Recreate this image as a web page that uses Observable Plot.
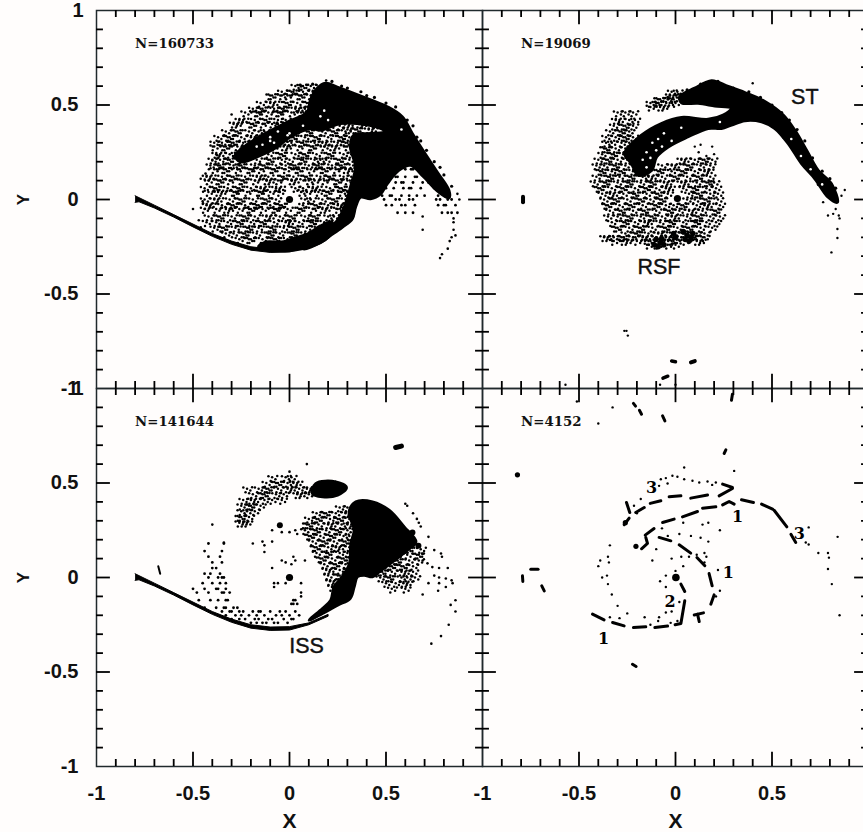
<!DOCTYPE html>
<html><head><meta charset="utf-8">
<script src="https://cdn.jsdelivr.net/npm/d3@7"></script>
<script src="https://cdn.jsdelivr.net/npm/@observablehq/plot@0.6"></script>
<style>html,body{margin:0;padding:0;background:#fffdfc;overflow:hidden}#c{width:863px;height:832px;overflow:hidden}</style>
</head><body><div id="c"></div>
<script>
// Values. Row lists are [y, [x, x, ...]] in hundredths of an axis unit.
const minorTicks=[-.9,-.8,-.7,-.6,-.4,-.3,-.2,-.1,.1,.2,.3,.4,.6,.7,.8,.9];
const majorTicks=[-.5,0,.5];
const xTickLabels=[-1,-.5,0,.5];
const yTickLabels=[-1,-.5,0,.5];
const yTopLabel=[1];

const tail=[[-.8,.02],[-.7,-.03],[-.6,-.08],[-.5,-.13],[-.4,-.18],[-.3,-.22],[-.2,-.25],[-.1,-.262],[0,-.26],[.1,-.24],[.2,-.195],[.2,-.205],[.1,-.25],[0,-.278],[-.1,-.28],[-.2,-.268],[-.3,-.237],[-.4,-.195],[-.5,-.145],[-.6,-.093],[-.7,-.045],[-.78,-.012],[-.8,-.015]];

const blobA=[[-.28,.234],[-.185,.314],[-.098,.363],[.005,.417],[.09,.46],[.11,.53],[.14,.585],[.187,.615],[.247,.594],[.333,.562],[.42,.527],[.506,.491],[.584,.438],[.636,.349],[.696,.252],[.765,.145],[.826,.048],[.826,.009],[.774,.039],[.696,.119],[.627,.181],[.566,.154],[.506,.083],[.472,.03],[.42,.004],[.368,.012],[.342,-.041],[.325,-.103],[.273,-.147],[.212,-.191],[.161,-.227],[.074,-.262],[.16,-.183],[.247,-.112],[.29,-.023],[.316,.066],[.342,.172],[.316,.278],[.333,.34],[.42,.349],[.497,.358],[.472,.376],[.351,.402],[.264,.402],[.161,.367],[.109,.376],[.005,.332],[-.064,.278],[-.15,.234],[-.254,.199]];
const bandA=[[-.16,-.25],[-.12,-.225],[-.04,-.225],[.04,-.2],[.1,-.18],[.16,-.14],[.22,-.12],[.2,-.2],[.07,-.26],[-.05,-.27]];
const specksWhiteA=[[-.1,.33],[-.1,.31],[-.08,.3],[0,.35],[-.01,.34],[.16,.44],[.07,.39],[.18,.47],[.2,.42],[-.17,.28],[-.14,.29],[-.06,.36],[.58,.37]];
const fringeA=[[.06,.6],[.12,.61],[.22,.625],[.3,.59],[.37,.57],[.44,.54],[.5,.51],[.55,.49],[.61,.42],[.66,.33],[.71,.26],[.75,.2],[.8,.13],[.84,.07],[.64,.39],[.68,.31],[.78,.17],[.4,.55],[.27,.6]];
const rowsA=[[60,[3,6,7,11,16]],[57,[-4,1,2,7,12,14]],[55,[-10,-9,-4,-1,5,6,11,15]],[51,[-15,-10,-8,-2,-1,4,9,10]],[48,[-19,-15,-14,-8,-4,-3,3,5,8]],[46,[-23,-17,-16,-11,-6,-5,1,6]],[42,[-26,-24,-18,-13,-12,-6,-2]],[40,[-29,-27,-20,-19,-14,-9,-6,29,31,36,38,44,48]],[39,[13,17,21,26]],[37,[30,34,35,41,43]],[36,[-33,-28,-27,-21,-16,-13,3,9,10,17,22,23,29]],[33,[-37,-32,-31,-25,-20,-18,1,2,8,13,14,20,26,27,31]],[30,[-39,-35,-30,-29,-24,-21,-4,1,6,7,13,17,19,25,29,30]],[28,[-39,-34,-33,-27,-8,-3,-1,5,11,12,18,22,24,30]],[24,[-38,-36,-31,-28,-11,-5,-4,3,7,8,14,20,21,28,32]],[21,[-40,-36,-32,-31,-25,-17,-11,-10,-4,0,6,7,13,16,19,25,26,31]],[18,[-41,-37,-36,-29,-26,-25,-18,-14,-13,-7,-2,2,3,10,14,15,22,26,27,33]],[16,[-39,-34,-33,-27,-21,-20,-15,-9,-8,-2,4,5,11,17,18,24,29,31]],[12,[-43,-41,-35,-30,-29,-23,-17,-15,-11,-4,-3,2,8,9,16,20,21,28,32]],[10,[-42,-37,-36,-31,-25,-24,-18,-12,-10,-6,1,3,10,13,18,24,25,30]],[6,[-44,-39,-38,-32,-27,-26,-20,-15,-13,-7,-5,3,7,12,14,21,26,27]],[4,[-42,-37,-35,-29,-28,-22,-16,-15,-10,-5,6,9,15,19,20,27,30]],[0,[-44,-39,-37,-31,-26,-25,-19,-13,-12,-7,8,11,17,22,23,29]],[-3,[-43,-41,-35,-30,-29,-23,-17,-16,-10,-5,-4,7,13,14,20,25,27]],[-5,[-44,-38,-33,-31,-26,-21,-20,-14,-8,-7,-1,5,6,12,17,19,25]],[-9,[-42,-37,-36,-30,-24,-23,-18,-12,-10,-5,0,1,8,12,13,20,23]],[-12,[-43,-38,-32,-27,-26,-20,-15,-14,-8,-2,0,5,11,12,18]],[-15,[-39,-35,-34,-28,-22,-21,-16,-10,-9,-3,2,3,9,15]],[-18,[-33,-29,-24,-23,-17,-11,-10,-5,1,2,8,12]],[-21,[-26,-21,-20,-14,-8,-7,-1,3,6]],[-24,[-13,-8,-7,-2,1]]];
const rowsA2=[[16,[60,63,64,67]],[12,[55,56,60,65,66,70]],[9,[51,55,58,59,64,69,72]],[6,[49,50,54,59,62,63,68,75]],[2,[48,52,53,58,62,66,70,77]],[0,[49,55,57,62,64,76,78,82,84]],[-3,[50,53,58,60,65,77,80,81,86]],[-7,[56,60,64,79,82,84,87]]];
const sparseA=[[-.3,.45],[-.46,.11],[-.435,.137],[-.45,-.01],[-.5,-.05],[-.47,-.11],[-.46,-.147],[-.375,.234],[-.4,.207],[.69,-.09],[.69,-.16],[.85,-.16],[.86,-.19],[.84,-.2],[.83,-.22],[.85,-.12],[.79,-.29],[.82,-.26],[.78,-.31],[.87,.03],[.88,0],[.85,-.1],[.19,.63]];

const blobB=[[-.263,.243],[-.176,.34],[-.073,.402],[.031,.434],[.169,.424],[.247,.447],[.29,.482],[.204,.495],[.117,.509],[.031,.512],[.022,.544],[.1,.589],[.187,.628],[.273,.598],[.359,.566],[.463,.518],[.558,.447],[.618,.367],[.679,.261],[.739,.154],[.808,.083],[.839,-.014],[.791,.012],[.722,.11],[.653,.19],[.584,.296],[.515,.376],[.446,.411],[.359,.417],[.29,.394],[.238,.376],[.169,.376],[.066,.332],[-.038,.278],[-.098,.225],[-.124,.154],[-.193,.128],[-.228,.19]];
const clumpDotsB=[[-.1,-.21],[-.08,-.23],[-.09,-.25],[-.07,-.21],[-.11,-.24],[-.06,-.24],[.06,-.19],[.08,-.2],[.07,-.22],[.05,-.21],[.09,-.18],[-.01,-.18],[0,-.2],[.04,-.17]];
const specksWhiteB=[[-.12,.3],[-.09,.32],[-.07,.28],[-.15,.25],[-.13,.22],[-.06,.35],[.03,.38],[.23,.41],[.6,.32],[.65,.23],[-.17,.21],[-.15,.17],[-.02,.31],[-.1,.26],[.7,.16],[.76,.08]];
const fringeB=[[.06,.58],[.13,.61],[.22,.625],[.3,.59],[.38,.57],[.44,.54],[.5,.5],[.55,.46],[.59,.42],[.63,.37],[.67,.31],[.71,.22],[.76,.15],[.8,.11],[.83,.06],[.62,.27],[.56,.33],[-.04,.54],[.27,.45],[.33,.44],[.78,.03],[.74,.08]];
const rowsB=[[57,[-2,1]],[55,[-3,-1,3,5]],[53,[-9,-8,-4,-1]],[51,[-13,-10,-9,-3,0]],[49,[-13,-8,-6]],[46,[-30,-26,-22]],[42,[-31,-29,-24,-21]],[39,[-32,-27,-26,-22]],[36,[-34,-29,-28,-24]],[33,[-36,-31,-27,-26,-22]],[30,[-36,-33,-28,-24]],[27,[-37,-36,-31,-26]],[24,[-38,-33,-32,-27,-25]],[21,[-40,-36,-35,-30,-25,-23,3,5,10,14,15,19]],[18,[-41,-37,-32,-31,-26,-7,-2,0,6,7,13,18]],[15,[-39,-38,-33,-29,-28,-22,-20,-9,-8,-2,3,4,10,15,17]],[12,[-41,-35,-34,-29,-24,-23,-17,-14,-12,-7,-1,0,6,11,12,18]],[9,[-42,-37,-36,-30,-25,-24,-18,-13,-12,-6,-4,3,5,11,16,17,20]],[6,[-40,-39,-33,-28,-27,-21,-16,-15,-10,-5,-3,4,9,10,16,21]],[3,[-38,-34,-32,-27,-22,-21,-15,-10,-9,-4,7,11,12,18,22]],[0,[-37,-32,-31,-25,-19,-18,-13,-8,-7,6,10,15,16,22]],[-3,[-36,-35,-29,-24,-23,-17,-11,-10,-5,-1,3,4,11,15,17,23]],[-6,[-34,-29,-28,-22,-17,-16,-10,-4,-3,2,7,9,14,20,21]],[-9,[-35,-30,-25,-24,-18,-13,-12,-7,-2,0,6,11,12,18,23]],[-12,[-33,-27,-26,-21,-16,-14,-8,-3,-2,4,10,11,16,21]],[-15,[-31,-30,-24,-19,-18,-12,-6,-5,1,6,7,13,19]],[-18,[-26,-21,-20,-14,-9,-7,-1,4,5,11,15]],[-20,[-37,-35,-32,-28,-27,-22,-17,-15,-10,-5,-3,3,8,9,15]],[-22,[-32,-27,-25,-20,-14,-13,-8,-2,-1,5,11,13]],[-24,[-14,-10,-9,-4,0]]];
const sparseB=[[.4,.615],[.808,-.28],[.839,-.204],[.839,-.156],[.846,-.085],[.817,-.076],[.79,-.085],[.765,-.014],[.86,.02],[.877,.05],[.83,-.05],[.85,-.1],[.19,.28],[.2,.24],[.13,.29],[.12,.25],[.1,.28],[.16,.23],[-.254,-.695],[-.247,-.72],[-.265,-.695],[-.57,-.98],[-.08,-.98],[0,-.98]];
const pieceB1=[[-.79,.014],[-.79,-.014]];
const pieceB2=[[-.02,-.855],[0,-.858]];
const pieceB3=[[.08,-.862],[.1,-.855]];
const pieceB4=[[-.065,-.945],[-.04,-.935]];

const blobC=[[.309,.347],[.344,.4],[.43,.4],[.516,.356],[.594,.268],[.655,.189],[.611,.145],[.534,.083],[.465,.03],[.43,.004],[.387,.012],[.352,.004],[.335,-.049],[.314,-.111],[.249,-.146],[.171,-.19],[.102,-.226],[.171,-.164],[.214,-.12],[.231,-.05],[.27,0],[.31,.07],[.318,.18],[.335,.25]];
const clumpC=[[.136,.497],[.24,.506],[.295,.476],[.249,.436],[.171,.427],[.119,.444]];
const rowsC=[[53,[-9,-2,1]],[50,[-12,-7,-6,-1,2,4]],[47,[-22,-16,-12,-11,-6,-1,1,5,9,11]],[44,[-19,-14,-13,-7,-3,4,6,10]],[41,[-24,-20,-18,-13,-9,-4]],[38,[-25,-21,-20,-15]],[35,[-25,-22,-18]],[32,[-26,-25,-21]],[29,[-26,-24,-22]],
[37,[26,30]],[34,[14,18,19,24,29,31]],[31,[10,14,15,21,25,26,31]],[28,[9,10,15,20,22,27,30,32]],[25,[8,13,14,19,24,25,30]],[22,[10,11,16,21,22,28,31]],[19,[12,17,18,23,28,29]],[16,[13,14,20,24,26,31]],[13,[14,19,20,26,30,33]],[10,[16,17,22,27,28,33]],[7,[18,23,24,29,32]],[4,[19,21,26,30]],[1,[20,25,26,31]],[-2,[21,23,29]],[-5,[22,27]],
[15,[57,61,62,68]],[12,[54,56,61,66,67]],[9,[51,55,56,62,67]],[6,[48,52,53,58,59,64]],[3,[47,48,53,58,60,64]],[0,[47,51,52,58,61,65]],[-3,[50,55,59,61]],[-6,[53,60]]];
const rowsC2=[[18,[-42,-34]],[14,[-44,-35]],[11,[-42,-36]],[8,[-40,-35]],[5,[-40,-38]],[2,[-44,-41,-36]],[0,[-42,-37,-35,-34]],[-3,[-45,-40,-36,-33]],[-6,[-50,-44,-38,-37,-33]],[-8,[-48,-42,-35,-34,-31]],[-12,[-47,-41,-37,-33,-32,2,3]],[-14,[1,2,4]],[-16,[-44,-38,-34,-33,-29,-27]],[-18,[-35,-31,-30,-26,-24,-19,-16,-15,-10,-5,-2,3]],[-20,[-33,-28,-25,-21,-17,-13,-7,-4,0,5]],[-22,[-30,-26,-23,-18,-16,-11,-9,-3,1,2]],[-24,[-20,-17,-14,-12,-8,-6,-1]]];
const sparseC=[[-.4,.28],[-.34,.185],[-.19,.18],[-.14,.19],[-.13,.17],[-.13,.135],[-.09,.19],[-.09,.25],[-.04,.24],[0,.24],[.03,.25],[.07,.26],[.04,.23],[-.04,.09],[-.02,.08],[.01,.07],[.02,.11],[.03,.09],[.08,.09],[-.09,.05],[-.08,-.03],[-.08,-.05],[-.06,-.03],[-.02,-.03],[.06,-.03],[.06,-.08],[.06,-.1],[0,.56],[.09,.6],[.6,.39],[.61,.38],[.64,.34],[.66,.31],[.67,.29],[.68,.27],[.59,.27],[.72,.215],[.75,.145],[.785,.127],[.79,.11],[.715,.075],[.74,.055],[.775,.05],[.82,.05],[.75,.01],[.775,0],[.81,-.005],[.84,-.015],[.845,-.03],[.72,-.03],[.775,-.03],[.81,-.05],[.77,-.07],[.69,-.09],[.86,-.12],[.835,-.145],[.86,-.18],[.825,-.25],[.785,-.31],[.735,-.35],[.69,.125],[.69,.09]];
const bigC=[[-.05,.277],[.668,.168],[.637,.238]];
const pieceC1=[[-.68,.06],[-.67,.02]];
const pieceC2=[[.55,.688],[.58,.695]];

const dashesD=[[[-.43,-.194],[-.37,-.224]],[[-.326,-.238],[-.266,-.256]],[[-.218,-.265],[-.154,-.261]],[[-.107,-.265],[-.041,-.257]],[[.048,-.123],[.028,-.243],[-.002,-.25]],[[.097,-.198],[.145,-.187]],[[.114,-.194],[.123,-.233]],[[.183,-.141],[.2,-.092]],[[.174,.021],[.19,-.044]],[[.111,.106],[.152,.062]],[[.019,.173],[.079,.129]],[[-.085,.212],[-.024,.194]],[[-.176,.152],[-.145,.18],[-.154,.212]],[[-.157,.224],[-.111,.259]],[[-.067,.291],[-.007,.309]],[[.036,.321],[.114,.349]],[[.14,.367],[.209,.374]],[[.244,.384],[.278,.402],[.304,.388]],[[.342,.411],[.404,.397]],[[.446,.388],[.503,.362]],[[.511,.356],[.577,.268]],[[.598,.229],[.623,.185]],[[-.24,.314],[-.266,.279]],[[-.206,.344],[-.162,.37]],[[-.131,.392],[-.076,.406]],[[-.033,.427],[.028,.432]],[[.079,.42],[.166,.436]],[[.226,.432],[.295,.471]],[[.244,.494],[.295,.476]],[[-.254,.397],[-.237,.344]],[[.028,-.035],[.048,-.074]],[[-.218,.921],[-.207,.907]],[[-.187,.885],[-.176,.864]],[[-.067,.855],[-.055,.829]],[[.261,.675],[.252,.656]],[[.295,.97],[.29,.938]],[[-.223,-.459],[-.204,-.471]],[[-.75,.044],[-.712,.044]],[[-.793,.009],[-.791,-.021]],[[-.693,-.044],[-.68,-.071]]];
const dotsD=[[.045,.582],[.304,.564],[-.326,.9],[-.4,.815],[-.511,.931],[-.076,.52],[-.05,.526],[-.016,.538],[.01,.533],[.045,.52],[.088,.512],[.123,.503],[.166,.508],[.209,.503],[-.085,.485],[-.041,.497],[.14,.28],[.17,.29],[.23,.25],[.04,.29],[-.07,.26],[.02,.23],[.08,.22],[.13,.21],[.17,.19],[-.04,.22],[-.1,.15],[-.12,.09],[-.02,.1],[.03,.11],[.07,.11],[.11,.12],[.15,.13],[.16,.11],[.15,.08],[.22,.04],[.23,-.07],[.21,-.1],[0,.035],[.04,.06],[-.08,-.02],[-.05,-.05],[-.05,.01],[.02,-.13],[-.02,-.18],[-.05,-.185],[-.085,-.21],[-.09,-.23],[-.16,-.21],[-.25,-.19],[-.3,-.15],[-.33,-.09],[-.29,-.215],[-.34,-.21],[-.35,-.035],[-.38,0],[-.355,.01],[-.4,.06],[-.345,.08],[-.35,.11],[-.39,.09],[-.34,.17],[.69,.265],[.675,.185],[.69,.175],[.74,.13],[.79,.13],[.795,.105],[.79,.045],[.81,-.035],[.84,.215],[.85,-.2],[-.13,-.25],[-.025,-.24],[.01,-.23],[-.215,.38],[-.2,.34],[-.18,.415],[.19,.49]];
const blobDotsD=[[-.205,.165],[-.819,.543],[-.26,.29]];
const countsText=[["A","N=160733"],["B","N=19069"],["C","N=141644"],["D","N=4152"]];
const featureLabels=[["B","ST",.67,.54],["B","RSF",-.086,-.36],["C","ISS",.088,-.363]];
const armNumbers=[["1",-.373,-.326],["1",.321,.321],["1",.273,.023],["2",-.028,-.127],["3",-.124,.476],["3",.641,.229]];

const cell={A:["L","T"],B:["R","T"],C:["L","B"],D:["R","B"]};
const at=p=>({fx:()=>cell[p][0],fy:()=>cell[p][1]});
const X=d=>d[0],Y=d=>d[1];
const expand=rows=>rows.flatMap(([y,xs])=>xs.map(x=>[x/100,y/100]));
const poly=(pts,p,curve="linear",sw=1)=>Plot.line(pts,{x:X,y:Y,fill:"#000",stroke:"#000",strokeWidth:sw,curve,...at(p)});
const smooth=(pts,p)=>poly(pts,p,"catmull-rom-closed",3);
const stroke=(pts,p,w)=>Plot.line(pts,{x:X,y:Y,stroke:"#000",strokeWidth:w,strokeLinecap:"round",...at(p)});
const dots=(pts,p,r=1.25,fill="#000",extra={})=>Plot.dot(pts,{x:X,y:Y,r,fill,...at(p),...extra});
// dense clouds: each listed position stands for a small clump of simulation particles
const offsets=[[0,0],[3.3,1.9],[-1.5,3.7],[5.1,-1.3],[-3.7,-1.1]];
const clump=(pts,p)=>offsets.map(([dx,dy])=>dots(pts,p,1.25,"#000",{dx,dy}));

const ink="#20292c";
// inward ticks on all four sides of every panel, drawn last and in solid black
const tickStyle={stroke:"#000",strokeWidth:1.8,strokeOpacity:1};
const sideTicks=(t,lenX,lenY)=>[-1,1].flatMap(e=>[
  Plot.ruleX(t,{x:d=>d,y1:()=>e,y2:()=>e-e*lenX,...tickStyle}),
  Plot.ruleY(t,{y:d=>d,x1:()=>e,x2:()=>e-e*lenY,...tickStyle})
]);
const axisFont={fontSize:20,fontWeight:"bold",fontFamily:"Liberation Sans"};

const chart=Plot.plot({
  width:868,height:832,marginLeft:96,marginRight:0,marginTop:10,marginBottom:66,
  style:{background:"#fffdfc",maxWidth:"none"},
  x:{domain:[-1,1],axis:null},y:{domain:[-1,1],axis:null},
  fx:{domain:["L","R"],padding:0,axis:null},fy:{domain:["T","B"],padding:0,axis:null},
  marks:[
    Plot.frame({stroke:ink,strokeWidth:1.5}),
    ...clump(expand(rowsA),"A"),dots(expand(rowsA2),"A",1.4),dots(sparseA,"A",1.3),
    smooth(blobA,"A"),smooth(bandA,"A"),poly(tail,"A"),dots(fringeA,"A",1.6),dots(specksWhiteA,"A",1.3,"#fff"),dots([[0,0]],"A",3.6),
    ...clump(expand(rowsB),"B"),dots(sparseB,"B",1.2),
    smooth(blobB,"B"),dots(clumpDotsB,"B",2.8),dots(fringeB,"B",1.6),dots(specksWhiteB,"B",1.3,"#fff"),dots([[.01,.005]],"B",3.6),
    stroke(pieceB1,"B",4),stroke(pieceB2,"B",3.5),stroke(pieceB3,"B",4),stroke(pieceB4,"B",3.5),
    ...clump(expand(rowsC),"C"),dots(expand(rowsC2),"C",1.4),dots(sparseC,"C",1.3),
    smooth(blobC,"C"),smooth(clumpC,"C"),poly(tail,"C"),dots([[0,0]],"C",3.6),dots(bigC,"C",3),
    stroke(pieceC1,"C",2),stroke(pieceC2,"C",5),
    ...dashesD.map(s=>stroke(s,"D",3)),dots(dotsD,"D",1.2),dots(blobDotsD,"D",2.6),dots([[.002,0]],"D",3.8),
    Plot.text(armNumbers,{x:d=>d[1],y:d=>d[2],text:d=>d[0],fontFamily:"DejaVu Serif",fontWeight:"bold",fontSize:16,fill:"#000",...at("D")}),
    ...countsText.map(([p,t])=>Plot.text([t],{x:()=>-.8,y:()=>.825,text:d=>d,textAnchor:"start",fontFamily:"DejaVu Serif",fontWeight:"bold",fontSize:13.3,fill:"#111",...at(p)})),
    ...featureLabels.map(([p,t,x,y])=>Plot.text([t],{x:()=>x,y:()=>y,text:d=>d,fontSize:21.5,fontFamily:"Liberation Sans",fill:"#111",stroke:"#111",strokeWidth:.4,...at(p)})),
    Plot.axisX({ticks:xTickLabels,tickSize:0,tickPadding:19,tickFormat:d=>String(d),facetAnchor:"bottom",anchor:"bottom",label:null,...axisFont,fill:"#111"}),
    Plot.axisY({ticks:yTickLabels,tickSize:0,tickPadding:18,tickFormat:d=>String(d),facetAnchor:"left",anchor:"left",label:null,...axisFont,fill:"#111"}),
    Plot.axisY({ticks:yTopLabel,tickSize:0,tickPadding:13,tickFormat:d=>String(d),facetAnchor:"left",anchor:"left",label:null,...axisFont,fill:"#111"}),
    ...["C","D"].map(p=>Plot.text(["X"],{x:()=>0,y:()=>-1,dy:55,text:d=>d,fontSize:21,fontWeight:"bold",fontFamily:"Liberation Sans",fill:"#111",...at(p)})),
    ...["A","C"].map(p=>Plot.text(["Y"],{x:()=>-1,y:()=>0,dx:-73,rotate:-90,text:d=>d,fontSize:17,fontWeight:"bold",fontFamily:"Liberation Sans",fill:"#111",...at(p)})),
    ...sideTicks(minorTicks,.037,.036),
    ...sideTicks(majorTicks,.075,.072)
  ]
});
document.getElementById("c").append(chart);
</script></body></html>
